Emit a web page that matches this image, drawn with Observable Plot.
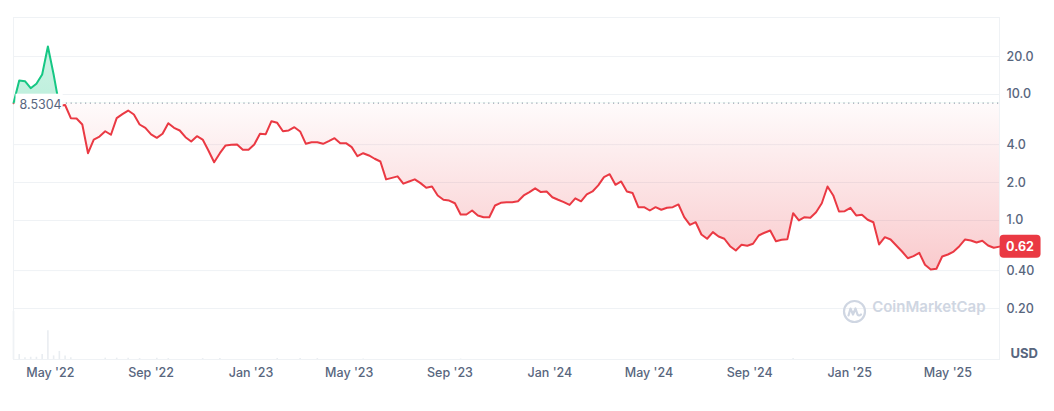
<!DOCTYPE html>
<html><head><meta charset="utf-8">
<script src="https://cdn.jsdelivr.net/npm/d3@7"></script>
<script src="https://cdn.jsdelivr.net/npm/@observablehq/plot@0.6"></script>
<style>
body{margin:0;background:#fff;font-family:Inter,"Noto Sans",sans-serif;}
#wrap{position:relative;width:1054px;height:411px;}
#wrap svg{position:absolute;left:0;top:0;}
</style></head><body><div id="wrap"></div>
<script>
// ---- data ----
const startDate = "2022-03-17";
const endDate = "2025-07-03";
const stepDays = 7; // weekly samples
const prices = [
 8.5304,12.91,12.75,11.22,12.16,14.41,24.04,14.4,8.1,8.25,
 6.49,6.45,5.78,3.42,4.39,4.64,5.11,4.79,6.49,6.98,
 7.46,6.94,5.78,5.44,4.82,4.53,4.88,5.92,5.44,5.18,
 4.58,4.24,4.67,4.39,3.59,2.90,3.42,3.94,3.99,4.01,
 3.64,3.64,4.01,4.88,4.84,6.14,5.96,5.11,5.18,5.50,
 5.09,4.06,4.18,4.18,4.06,4.26,4.50,4.11,4.11,3.82,
 3.24,3.42,3.28,3.09,2.94,2.12,2.18,2.24,1.96,2.04,
 2.12,1.98,1.82,1.86,1.58,1.46,1.44,1.37,1.116,1.116,
 1.20,1.096,1.062,1.062,1.315,1.38,1.397,1.397,1.42,1.58,
 1.68,1.80,1.68,1.70,1.53,1.46,1.40,1.33,1.50,1.42,
 1.61,1.70,1.90,2.21,2.33,1.92,2.04,1.70,1.65,1.275,
 1.275,1.20,1.275,1.216,1.261,1.275,1.34,1.062,0.924,0.969,
 0.774,0.716,0.808,0.746,0.716,0.625,0.578,0.641,0.630,0.653,
 0.760,0.799,0.833,0.685,0.703,0.711,1.143,1.00,1.062,1.05,
 1.164,1.37,1.86,1.58,1.179,1.185,1.261,1.096,1.11,1.013,
 0.969,0.645,0.737,0.707,0.633,0.567,0.502,0.521,0.554,0.445,
 0.408,0.414,0.518,0.537,0.567,0.625,0.707,0.694,0.669,0.690,
 0.633,0.607,0.62
];
const volumeWeeks  = [0,1,2,3,4,5,6,7,8,9,10,16,18,20,22,25,27,33,36,46,50,53,61,78,136];
const volumeValues = [107,11,4,5,5,11,64,8,18,8,4,3,3,3,2,3,2,2,2,2,2,2,1,1,2];
const baseline = 8.5304;
const lastPriceLabel = "0.62";
const yTicks = [20, 10, 4, 2, 1, 0.4, 0.2];
const yTickLabels = ["20.0","10.0","4.0","2.0","1.0","0.40","0.20"];
const xTicks = ["2022-05-01","2022-09-01","2023-01-01","2023-05-01","2023-09-01","2024-01-01","2024-05-01","2024-09-01","2025-01-01","2025-05-01"];
const xTickLabels = ["May '22","Sep '22","Jan '23","May '23","Sep '23","Jan '24","May '24","Sep '24","Jan '25","May '25"];

// ---- tables ----
const t0 = new Date(startDate);
const data = prices.map((v, i) => ({date: d3.utcDay.offset(t0, i * stepDays), v}));
const last = data[data.length - 1];
const volData = volumeWeeks.map((w, i) => ({date: d3.utcDay.offset(t0, w * stepDays), vol: volumeValues[i]}));
const xTickData = xTicks.map((d, i) => ({date: new Date(d), label: xTickLabels[i]}));
const yTickData = yTicks.map((v, i) => ({v, label: yTickLabels[i]}));

const W = 1054, H = 411;
const GRAY = "#58667e", RED = "#ea3943", GREEN = "#16c784", GRID = "#eff2f5", WM = "#cfd6e2";
const common = {
  width: W, height: H, marginLeft: 13, marginRight: 55, marginTop: 17, marginBottom: 52,
  x: {type: "utc", domain: [new Date(startDate), new Date(endDate)], axis: null}
};

// volume layer (underneath)
const vol = Plot.plot({
  ...common,
  marginTop: 305,
  style: {background: "transparent"},
  y: {domain: [0, 120], axis: null},
  marks: [
    Plot.ruleX(volData, {x: "date", y1: () => 0, y2: "vol", stroke: "#e9edf1", strokeWidth: 1.6})
  ]
});

// main price layer
const main = Plot.plot({
  ...common,
  style: {background: "transparent", fontFamily: "Inter, 'Noto Sans', sans-serif", color: GRAY},
  y: {type: "log", domain: [0.0788, 40.85], axis: null},
  marks: [
    Plot.gridY(yTicks, {stroke: GRID, strokeOpacity: 1}),
    Plot.frame({stroke: GRID, strokeOpacity: 1}),
    Plot.areaY(data, {x: "date", y1: () => baseline, y2: "v", fill: "url(#gRed)", ariaDescription: "below"}),
    Plot.areaY(data, {x: "date", y1: () => baseline, y2: "v", fill: "url(#gGreen)", ariaDescription: "above"}),
    Plot.ruleY([baseline], {stroke: "#9aa3b1", strokeWidth: 1.2, strokeDasharray: "1.2,3.6"}),
    Plot.lineY(data, {x: "date", y: "v", stroke: RED, strokeWidth: 2, ariaDescription: "below"}),
    Plot.lineY(data, {x: "date", y: "v", stroke: GREEN, strokeWidth: 2, ariaDescription: "above"}),
    Plot.text([baseline], {y: d => d, frameAnchor: "left", dx: 6, dy: 1.5, textAnchor: "start",
      text: d => d.toFixed(4), fill: GRAY, fontSize: 12.5, ariaDescription: "baselabel"}),
    Plot.text(yTickData, {y: "v", text: "label", frameAnchor: "right", dx: 7, textAnchor: "start", fill: GRAY, fontSize: 12.5, fontWeight: 500}),
    Plot.text(xTickData, {x: "date", text: "label", frameAnchor: "bottom", dy: 17, fill: GRAY, fontSize: 12.5, fontWeight: 500}),
    Plot.text(["USD"], {frameAnchor: "bottom-right", dx: 11, dy: -2, textAnchor: "start", fill: GRAY, fontSize: 13, fontWeight: 700}),
    Plot.dot([0], {frameAnchor: "bottom-right", dx: -145, dy: -48, r: 10.5, stroke: WM, strokeWidth: 2.2, fill: "none", ariaDescription: "logo"}),
    Plot.text(["CoinMarketCap"], {frameAnchor: "bottom-right", dx: -14, dy: -48, textAnchor: "end", fill: WM, fontSize: 15, fontWeight: 600}),
    Plot.text([last], {x: "date", y: "v", dx: 20.5, text: () => lastPriceLabel, fill: "#fff", fontSize: 12.5, fontWeight: 700, ariaDescription: "badge"})
  ]
});

const wrap = document.getElementById("wrap");
wrap.appendChild(vol);
wrap.appendChild(main);

// ---- post-processing: gradients, clipping, label boxes ----
const svg = d3.select(main);
const ys = main.scale("y");
const by = ys.apply(baseline);
const defs = svg.insert("defs", ":first-child");
const gr = defs.append("linearGradient").attr("id", "gRed").attr("gradientUnits", "userSpaceOnUse")
  .attr("x1", 0).attr("x2", 0).attr("y1", by).attr("y2", ys.apply(0.34));
gr.append("stop").attr("offset", 0).attr("stop-color", RED).attr("stop-opacity", 0.02);
gr.append("stop").attr("offset", 1).attr("stop-color", RED).attr("stop-opacity", 0.28);
const gg = defs.append("linearGradient").attr("id", "gGreen").attr("gradientUnits", "userSpaceOnUse")
  .attr("x1", 0).attr("x2", 0).attr("y1", ys.apply(30)).attr("y2", by);
gg.append("stop").attr("offset", 0).attr("stop-color", GREEN).attr("stop-opacity", 0.2);
gg.append("stop").attr("offset", 1).attr("stop-color", GREEN).attr("stop-opacity", 0.28);
defs.append("clipPath").attr("id", "clipAbove").append("rect").attr("x", 0).attr("y", 0).attr("width", W).attr("height", by);
defs.append("clipPath").attr("id", "clipBelow").append("rect").attr("x", 0).attr("y", by).attr("width", W).attr("height", H - by);
svg.selectAll('[aria-description="below"]').attr("clip-path", "url(#clipBelow)");
svg.selectAll('[aria-description="above"]').attr("clip-path", "url(#clipAbove)");

// white box behind baseline label (same transform as the text)
svg.selectAll('[aria-description="baselabel"] text').each(function() {
  const b = this.getBBox();
  d3.select(this.parentNode).insert("rect", "text")
    .attr("transform", this.getAttribute("transform"))
    .attr("x", b.x - 4).attr("y", b.y - 3).attr("width", b.width + 5).attr("height", b.height + 4)
    .attr("fill", "#fff");
});
// red badge behind last price
svg.selectAll('[aria-description="badge"] text').each(function() {
  const b = this.getBBox();
  const cx = b.x + b.width / 2, cy = b.y + b.height / 2;
  d3.select(this.parentNode).insert("rect", "text")
    .attr("transform", this.getAttribute("transform"))
    .attr("x", cx - 20.5).attr("y", cy - 11.5).attr("width", 41).attr("height", 23)
    .attr("rx", 4).attr("fill", RED);
});
// wave inside logo circle
svg.selectAll('[aria-description="logo"] circle').each(function() {
  const t = this.getAttribute("transform");
  let cx = +this.getAttribute("cx") || 0, cy = +this.getAttribute("cy") || 0;
  if (t) { const m = /translate\(([-\d.]+)[,\s]+([-\d.]+)\)/.exec(t); if (m) { cx += +m[1]; cy += +m[2]; } }
  d3.select(this.parentNode).append("path")
    .attr("d", `M${cx-6},${cy+4} L${cx-4},${cy-3} L${cx-1.5},${cy+3} L${cx+1},${cy-3} L${cx+3},${cy+3} Q${cx+4.5},${cy+5} ${cx+6.5},${cy+3}`)
    .attr("fill", "none").attr("stroke", WM).attr("stroke-width", 2.2)
    .attr("stroke-linecap", "round").attr("stroke-linejoin", "round");
});
</script>
</body></html>
